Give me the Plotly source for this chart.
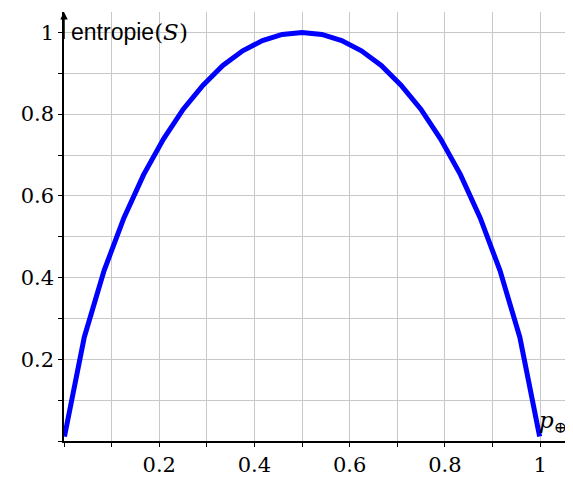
import plotly.graph_objects as go

# p values (25 samples) and entropy
p_vals = [0.001, 0.0426, 0.0842, 0.1258, 0.1673, 0.2089, 0.2505, 0.2921, 0.3337,
          0.3753, 0.4168, 0.4584, 0.5, 0.5416, 0.5832, 0.6247, 0.6663, 0.7079,
          0.7495, 0.7911, 0.8327, 0.8742, 0.9158, 0.9574, 0.999]
entropy_vals = [0.011, 0.254, 0.417, 0.546, 0.652, 0.739, 0.812, 0.871, 0.919,
                0.955, 0.980, 0.995, 1.0, 0.995, 0.980, 0.955, 0.919, 0.871,
                0.812, 0.739, 0.652, 0.546, 0.417, 0.254, 0.011]
tick_vals = [0.2, 0.4, 0.6, 0.8, 1]
tick_text = ["0.2", "0.4", "0.6", "0.8", "1"]

serif = "'DejaVu Serif', serif"

fig = go.Figure()
fig.add_trace(go.Scatter(x=p_vals, y=entropy_vals, mode="lines",
                         line=dict(color="#0000ff", width=5), showlegend=False))

axis_common = dict(
    showline=True, linecolor="black", linewidth=1.5,
    showgrid=True, gridcolor="#c8c8c8", gridwidth=1,
    zeroline=False, ticks="outside", ticklen=4, tickcolor="black", tickwidth=1,
    tickfont=dict(family=serif, size=21, color="black"),
    tickvals=tick_vals, ticktext=tick_text,
    minor=dict(dtick=0.1, tick0=0, showgrid=True, gridcolor="#c8c8c8",
               ticks="outside", ticklen=4, tickcolor="black"),
)

fig.update_xaxes(range=[0, 1.067], **axis_common)
fig.update_yaxes(range=[0, 1.05], **axis_common)

fig.add_annotation(x=0, y=1.05, ax=0, ay=0.98, xref="x", yref="y", axref="x", ayref="y",
                   showarrow=True, arrowhead=2, arrowsize=1, arrowwidth=1.5,
                   arrowcolor="black", text="")
fig.add_annotation(x=0, y=1.0, xref="x", yref="y",
                   text="entropie<span style=\"font-family:'DejaVu Serif'\">(<i>S</i>)</span>",
                   showarrow=False, xanchor="left", yanchor="middle", xshift=5,
                   font=dict(family="'Liberation Sans', sans-serif", size=23, color="black"))
fig.add_annotation(x=1, y=0, xref="x", yref="y", text="<i>p</i><sub>⊕</sub>",
                   showarrow=False, xanchor="left", yanchor="bottom", xshift=-3, yshift=2,
                   font=dict(family=serif, size=23, color="black"))

fig.update_layout(
    width=565, height=472,
    margin=dict(l=56, r=1, t=4, b=39),
    plot_bgcolor="white", paper_bgcolor="white",
)

fig.write_html("out.html")
